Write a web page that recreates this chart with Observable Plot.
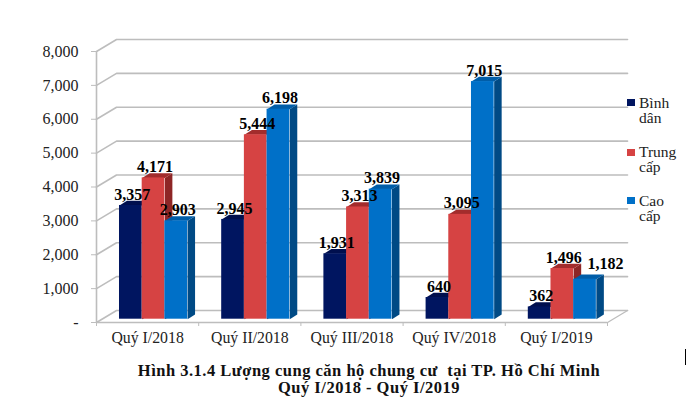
<!DOCTYPE html>
<html><head><meta charset="utf-8">
<script src="https://cdn.jsdelivr.net/npm/d3@7"></script>
<script src="https://cdn.jsdelivr.net/npm/@observablehq/plot@0.6"></script>
<style>
html,body{margin:0;padding:0;background:#fff;}
#wrap{position:relative;width:696px;height:409px;overflow:hidden;font-family:"Liberation Serif",serif;}
#title{position:absolute;left:0;width:738px;top:362px;text-align:center;font-weight:bold;font-size:16.5px;line-height:17px;letter-spacing:.5px;color:#111;}
.lg{position:absolute;left:639px;font-size:15.5px;line-height:15px;color:#222;}
.sw{position:absolute;left:627px;width:8px;height:7px;}
#cursor{position:absolute;left:685px;top:349px;width:1px;height:16px;background:#000;}
svg{display:block;}
</style></head><body>
<div id="wrap"><div id="chart"></div>
<div id="title"></div><div id="legend"></div><div id="cursor"></div></div>
<script>
const categories = ["Quý I/2018","Quý II/2018","Quý III/2018","Quý IV/2018","Quý I/2019"];
const binhDan = [3357,2945,1931,640,362];
const trungCap = [4171,5444,3313,3095,1496];
const caoCap = [2903,6198,3839,7015,1182];
const seriesNames = [["Bình","dân"],["Trung","cấp"],["Cao","cấp"]];
const frontColors = ["#001560","#D64343","#0070C8"];
const sideColors = ["#000D45","#8E2626","#004A85"];
const topColors = ["#000F4E","#A32C2C","#005DA8"];
const yTicks = [0,1000,2000,3000,4000,5000,6000,7000,8000];
const titleLines = ["Hình 3.1.4 Lượng cung căn hộ chung cư  tại TP. Hồ Chí Minh","Quý I/2018 - Quý I/2019"];

const barStart = 0.225, barW = 0.222, depthX = 0.0734, depthV = 139, wallX = 0.196, wallV = 354, baseDy = -3.3;
const series = [binhDan,trungCap,caoCap];
const barMarks = series.flatMap((vals,s)=>{
  const rows = vals.map((v,i)=>({i,v,l:i+barStart+s*barW,r:i+barStart+(s+1)*barW}));
  const side = rows.flatMap(d=>[[d.r,0],[d.r+depthX,depthV],[d.r+depthX,d.v+depthV],[d.r,d.v]].map(p=>({x:p[0],y:p[1],z:d.i})));
  const top = rows.flatMap(d=>[[d.l,d.v],[d.l+depthX,d.v+depthV],[d.r+depthX,d.v+depthV],[d.r,d.v]].map(p=>({x:p[0],y:p[1],z:d.i})));
  return [
    Plot.line(side,{x:"x",y:"y",z:"z",fill:sideColors[s],stroke:"none",dy:baseDy}),
    Plot.line(top,{x:"x",y:"y",z:"z",fill:topColors[s],stroke:"none",dy:baseDy}),
    Plot.rect(rows,{x1:"l",x2:"r",y1:0,y2:"v",fill:frontColors[s],dy:baseDy})
  ];
});
const labels = series.flatMap((vals,s)=>vals.map((v,i)=>({x:i+barStart+(s+.5)*barW,v,shifted:s===2&&i===4})));
const backLines = yTicks.flatMap(v=>[{x:0,y:v,z:v},{x:wallX,y:v+wallV,z:v},{x:5+wallX,y:v+wallV,z:v}]);
const grid = "#BDBDBD";
const serif = "Liberation Serif";
const labelStyle = {x:"x",y:"v",text:d=>d3.format(",")(d.v),fontSize:16,fontWeight:"bold",fill:"#000",fontFamily:serif};
const plot = Plot.plot({
  width:696,height:355,marginLeft:96,marginRight:89,marginTop:51,marginBottom:33,
  style:{background:"transparent",fontFamily:serif},
  x:{type:"linear",domain:[0,5],range:[96,607],axis:null},
  y:{type:"linear",domain:[0,8000],range:[322,51],axis:null},
  marks:[
    Plot.line(backLines,{x:"x",y:"y",z:"z",stroke:grid,strokeWidth:1.6}),
    Plot.line([{x:5,y:0},{x:5+wallX,y:wallV}],{x:"x",y:"y",stroke:grid,strokeWidth:1.3}),
    Plot.ruleX([0],{y1:0,y2:8000,stroke:grid,strokeWidth:1.6}),
    Plot.ruleY([0],{x1:0,x2:5,stroke:grid,strokeWidth:1.6}),
    Plot.axisY({ticks:yTicks,tickSize:5,tickPadding:13,stroke:grid,fill:"#222",fontSize:16,fontFamily:serif,label:null,
      tickFormat:d=>d===0?"-":d3.format(",")(d)}),
    Plot.axisX({ticks:[0,1,2,3,4,5],tickSize:4,stroke:grid,tickFormat:()=>"",label:null}),
    Plot.axisX({ticks:[.5,1.5,2.5,3.5,4.5],tickSize:0,tickPadding:9,fill:"#222",fontSize:15.8,fontFamily:serif,label:null,
      tickFormat:d=>categories[Math.floor(d)]}),
    ...barMarks,
    Plot.text(labels.filter(d=>!d.shifted),{...labelStyle,dx:1.5,dy:-14.3}),
    Plot.text(labels.filter(d=>d.shifted),{...labelStyle,dx:20.5,dy:-19})
  ]
});
document.getElementById("chart").append(plot);
document.getElementById("title").innerHTML = titleLines.map(t=>`<div style="white-space:pre">${t}</div>`).join("");
const lgTops = [94.5,144,192.5];
document.getElementById("legend").innerHTML = seriesNames.map((n,i)=>
  `<div class="sw" style="top:${lgTops[i]+4.5}px;background:${frontColors[i]}"></div><div class="lg" style="top:${lgTops[i]}px">${n[0]}<br>${n[1]}</div>`).join("");
</script>
</body></html>
